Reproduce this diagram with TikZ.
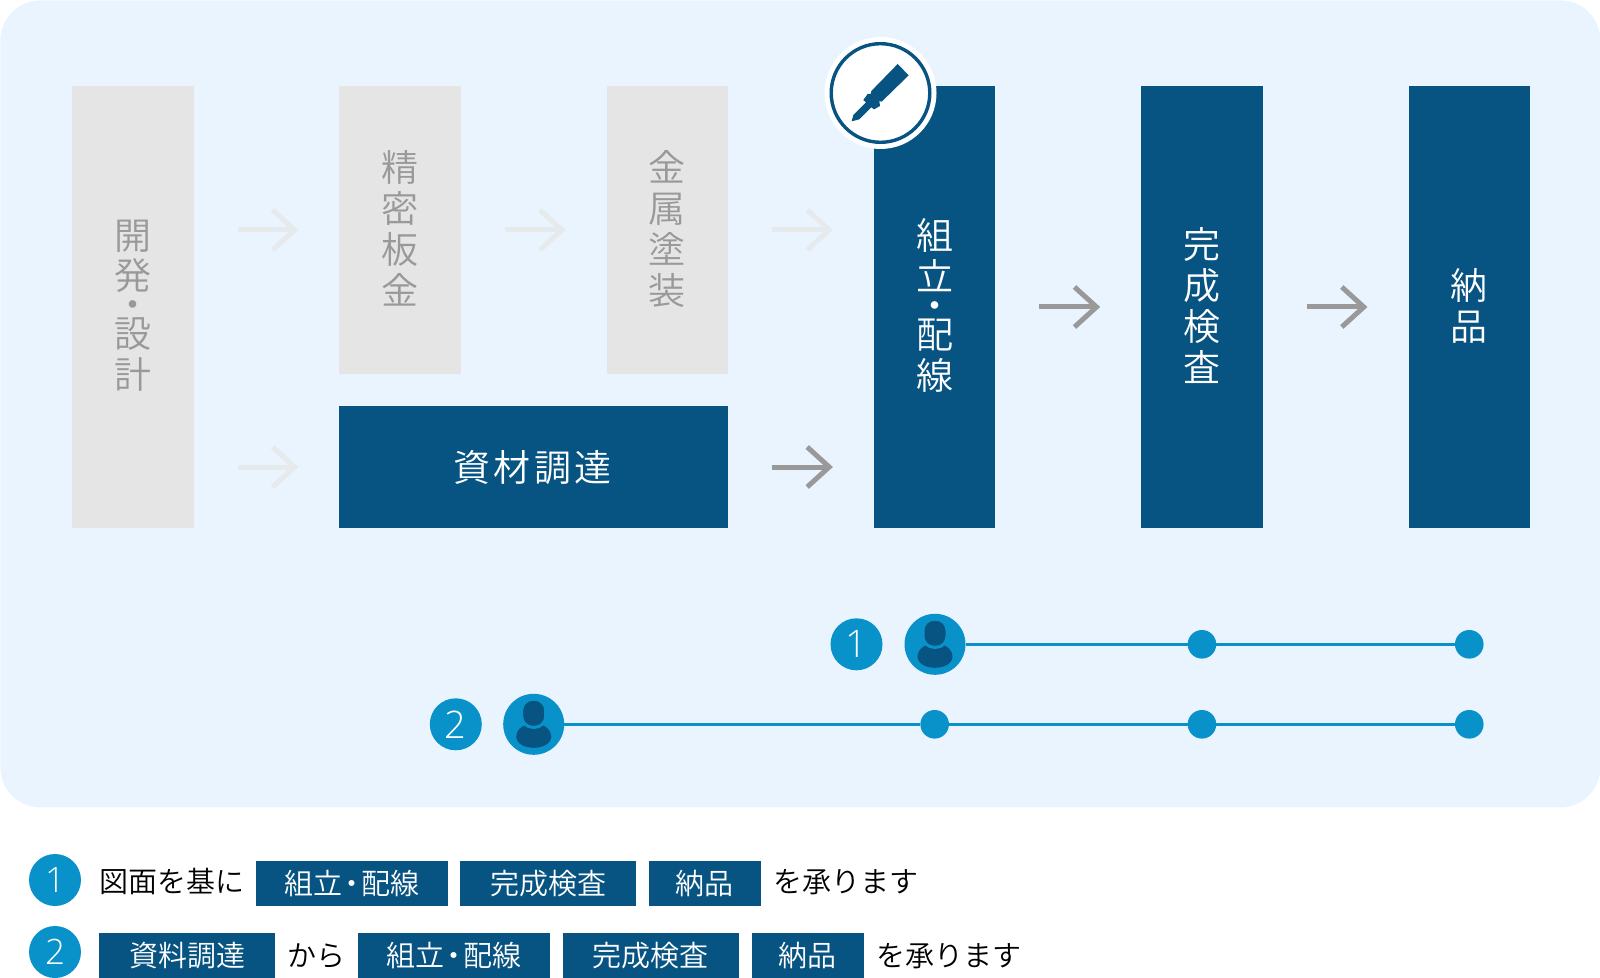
\documentclass[tikz,border=0pt]{standalone}
\usepackage{fontspec}
\usetikzlibrary{arrows.meta,positioning}
\newfontfamily\cjk{Noto Sans CJK JP DemiLight}
\newfontfamily\numfont{Open Sans Light}
\definecolor{flownavy}{RGB}{7,83,130}
\definecolor{flowcyan}{RGB}{8,146,201}
\definecolor{flowpanel}{RGB}{233,244,254}
\definecolor{flowpale}{RGB}{229,229,229}
\definecolor{flowgrey}{RGB}{153,153,153}
\lineskiplimit=-100pt
\newcommand{\dotgap}{\kern-2.5pt ・\kern-2.5pt }

\begin{document}
\begin{tikzpicture}[x=0.5pt, y=-0.5pt,
  stagebox/.style={anchor=north west, inner sep=0pt, outer sep=0pt, align=center, minimum width=60.75pt, text depth=2.5pt, font=\cjk\fontsize{18.5}{20.4}\selectfont},
  donebox/.style={stagebox, fill=flowpale, text=flowgrey},
  ourbox/.style={stagebox, fill=flownavy, text=white},
  arrlite/.style={-{Straight Barb[length=11pt, width=20pt, line width=2.5pt]}, line width=2.5pt, color=flowpale!70!flowpanel, shorten <=22pt, shorten >=20.5pt},
  arrdark/.style={arrlite, color=flowgrey},
  track/.style={draw=flowcyan, line width=1.7pt},
  stop/.style={circle, fill=flowcyan, inner sep=0pt, outer sep=0pt, minimum size=14.3pt},
  worker/.style={circle, fill=flowcyan, inner sep=0pt, outer sep=0pt, minimum size=30.5pt},
  badge/.style={circle, fill=flowcyan, text=white, inner sep=0pt, outer sep=0pt, minimum size=26pt, font=\numfont\fontsize{19}{19}\selectfont},
  tag/.style={fill=flownavy, text=white, inner sep=0pt, outer sep=0pt, minimum height=22.5pt, text height=12.76pt, text depth=1.74pt, font=\cjk\fontsize{14.5}{14.5}\selectfont},
  say/.style={inner sep=0pt, outer sep=0pt, text height=12.76pt, text depth=1.74pt, font=\cjk\fontsize{14.5}{14.5}\selectfont},
  person/.pic={
    \fill[flownavy] (-8,0.5) .. controls (-12,2) and (-17.5,6) .. (-17.5,12) .. controls (-17.5,20) and (-8,23.5) .. (0,23.5) .. controls (8,23.5) and (17.5,20) .. (17.5,12) .. controls (17.5,6) and (12,2) .. (8,0.5) -- cycle;
    \draw[draw=flowcyan, fill=flownavy, line width=1.5pt, rounded corners=5.5pt] (-12,-25) rectangle (12,3);
  }]
\useasboundingbox (0,0) rectangle (1600,978);
\node[anchor=north west, fill=flowpanel, rounded corners=20pt, minimum width=800pt, minimum height=403.5pt, inner sep=0pt] (panel) at (0,0) {};

\node[donebox, text depth=3pt, minimum height=221pt] (kaihatsu) at (72,86) {開\\発\\[-6pt]・\\[-6pt]設\\計};
\node[donebox, minimum height=144pt, right=72.9pt of kaihatsu.north east, anchor=north west] (seimitsu) {精\\密\\板\\金};
\node[donebox, minimum height=144pt, right=72.9pt of seimitsu.north east, anchor=north west] (kinzoku) {金\\属\\塗\\装};
\node[ourbox, minimum height=61pt, minimum width=194.4pt, text height=16.3pt, text depth=2.2pt, below=16pt of seimitsu.south west, anchor=north west] (shizai) {資\kern1.7pt 材\kern1.7pt 調\kern1.7pt 達\kern1pt };
\node[ourbox, text depth=3pt, minimum height=221pt, right=72.9pt of kinzoku.north east, anchor=north west] (kumitate) {組\\立\\[-6pt]・\\[-6pt]配\\線};
\node[ourbox, minimum height=221pt, right=72.9pt of kumitate.north east, anchor=north west] (kansei) {完\\成\\検\\査};
\node[ourbox, minimum height=221pt, right=72.9pt of kansei.north east, anchor=north west] (nouhin) {納\\品};

\draw[arrlite] (kaihatsu.east |- seimitsu.west) -- (seimitsu.west);
\draw[arrlite] (kaihatsu.east |- shizai.west) -- (shizai.west);
\draw[arrlite] (seimitsu.east) -- (kinzoku.west);
\draw[arrlite] (kinzoku.east) -- (kinzoku.east -| kumitate.west);
\draw[arrdark] (shizai.east) -- (shizai.east -| kumitate.west);
\draw[arrdark] (kumitate.east) -- (kansei.west);
\draw[arrdark] (kansei.east) -- (nouhin.west);

\node[circle, fill=white, minimum size=56pt, inner sep=0pt] (halo) at (880.5,93) {};
\node[circle, draw=flownavy, line width=1.7pt, minimum size=49.3pt, inner sep=0pt] (ring) at (halo) {};
\fill[flownavy, shift={(800,20)}, scale=1/3] (293,132) -- (326,166) -- (245,245) -- (238,243) -- (240,258) -- (222,268) -- (214,262) -- (178,298) -- (155,304) -- (160,285) -- (198,247) -- (190,240) -- (203,222) -- (212,222) -- (214,213) -- cycle;

\node[worker] (worker1) at (935,644.3) {};
\node[worker] (worker2) at (533.7,724.3) {};
\pic at (worker1) {person};
\pic at (worker2) {person};
\node[badge, left=11pt of worker1] (badge1) {1};
\node[badge, left=10.7pt of worker2] (badge2) {2};
\node[stop] (stop1b) at (kansei |- worker1) {};
\node[stop] (stop1c) at (nouhin |- worker1) {};
\node[stop] (stop2a) at (kumitate |- worker2) {};
\node[stop] (stop2b) at (kansei |- worker2) {};
\node[stop] (stop2c) at (nouhin |- worker2) {};
\draw[track] (worker1) -- (stop1b) -- (stop1c);
\draw[track] (worker2) -- (stop2a) -- (stop2b) -- (stop2c);

\node[badge, font=\numfont\fontsize{17.5}{17.5}\selectfont] (legend1) at (55,880) {1};
\node[say, anchor=west] (intro) at (99,881.7) {図面を基に};
\node[tag, minimum width=96pt, right=5.85pt of intro, yshift=-0.75pt] (tagk1) {組立\dotgap 配線};
\node[tag, minimum width=88pt, right=6.25pt of tagk1] (tagc1) {完成検査};
\node[tag, minimum width=56pt, right=6.25pt of tagc1] (tagn1) {納品};
\node[say, right=6.35pt of tagn1, yshift=0.75pt] (accept1) {を承ります};

\node[badge, font=\numfont\fontsize{17.5}{17.5}\selectfont] (legend2) at (55,952) {2};
\node[tag, minimum width=88pt, right=9pt of legend2, yshift=-1.5pt] (tags2) {資料調達};
\node[say, right=6.4pt of tags2] (from2) {から};
\node[tag, minimum width=96pt, right=6.1pt of from2] (tagk2) {組立\dotgap 配線};
\node[tag, minimum width=88pt, right=6.25pt of tagk2] (tagc2) {完成検査};
\node[tag, minimum width=56pt, right=6.5pt of tagc2] (tagn2) {納品};
\node[say, right=6.4pt of tagn2] (accept2) {を承ります};
\end{tikzpicture}
\end{document}
